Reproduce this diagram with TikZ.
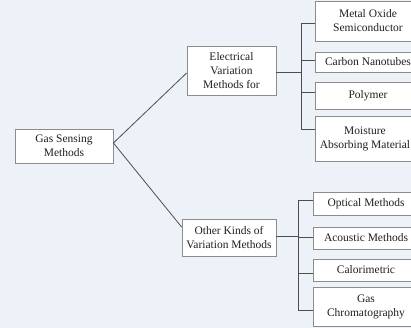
\documentclass[tikz,border=0pt]{standalone}
\usepackage{fontspec}
\setmainfont{Liberation Serif}
\definecolor{paper}{HTML}{EDF2F8}
\definecolor{frame}{HTML}{8C8C8C}
\definecolor{wirec}{HTML}{4E4E4E}
\tikzset{box/.style={draw=frame,fill=white,line width=.8pt,align=center,inner sep=0pt,text=black!88,font=\fontsize{11.5}{14}\selectfont},
wire/.style={draw=wirec,line width=.8pt}}
\begin{document}
\begin{tikzpicture}[x=1pt,y=-1pt]
\fill[paper] (0,0) rectangle (411,328);
\useasboundingbox (0,0) rectangle (411,328);
\node[box,minimum width=98,minimum height=34] (gsm) at (64,146) {Gas Sensing\\Methods};
\node[box,minimum width=89,minimum height=49] (ele) at (231.5,70.5) {Electrical\\Variation\\Methods for};
\node[box,minimum width=94,minimum height=37] (oth) at (229,237.5) {Other Kinds of\\Variation Methods};
\node[box,minimum width=106,minimum height=40] (mos) at (368,21) {Metal Oxide\\Semiconductor};
\node[box,minimum width=106,minimum height=20] (cnt) at (368,62) {Carbon Nanotubes};
\node[box,minimum width=106,minimum height=27] (pol) at (368,95.5) {Polymer};
\node[box,minimum width=100,minimum height=45] (mam) at (365,138.5) {Moisture\\Absorbing Material};
\node[box,minimum width=106,minimum height=23] (opt) at (366,203.5) {Optical Methods};
\node[box,minimum width=106,minimum height=22] (aco) at (366,238) {Acoustic Methods};
\node[box,minimum width=106,minimum height=22] (cal) at (366,270) {Calorimetric};
\node[box,minimum width=106,minimum height=39] (gch) at (366,306.5) {Gas\\Chromatography};
\coordinate (hubA) at (301,72);
\coordinate (hubB) at (298,236);
\draw[wire] ([yshift=3pt]gsm.east) -- ([yshift=-2.5pt]ele.west);
\draw[wire] ([yshift=3pt]gsm.east) -- ([yshift=10.5pt]oth.west);
\draw[wire] (ele.east |- hubA) -- (hubA);
\draw[wire] (oth.east |- hubB) -- (hubB);
\foreach \c/\s in {mos/-2,cnt/2,pol/3.5,mam/9.5} \draw[wire] (hubA) |- ([yshift=\s pt]\c.west);
\foreach \c/\s in {opt/3.5,aco/1,cal/-3,gch/-3.5} \draw[wire] (hubB) |- ([yshift=\s pt]\c.west);
\end{tikzpicture}
\end{document}
